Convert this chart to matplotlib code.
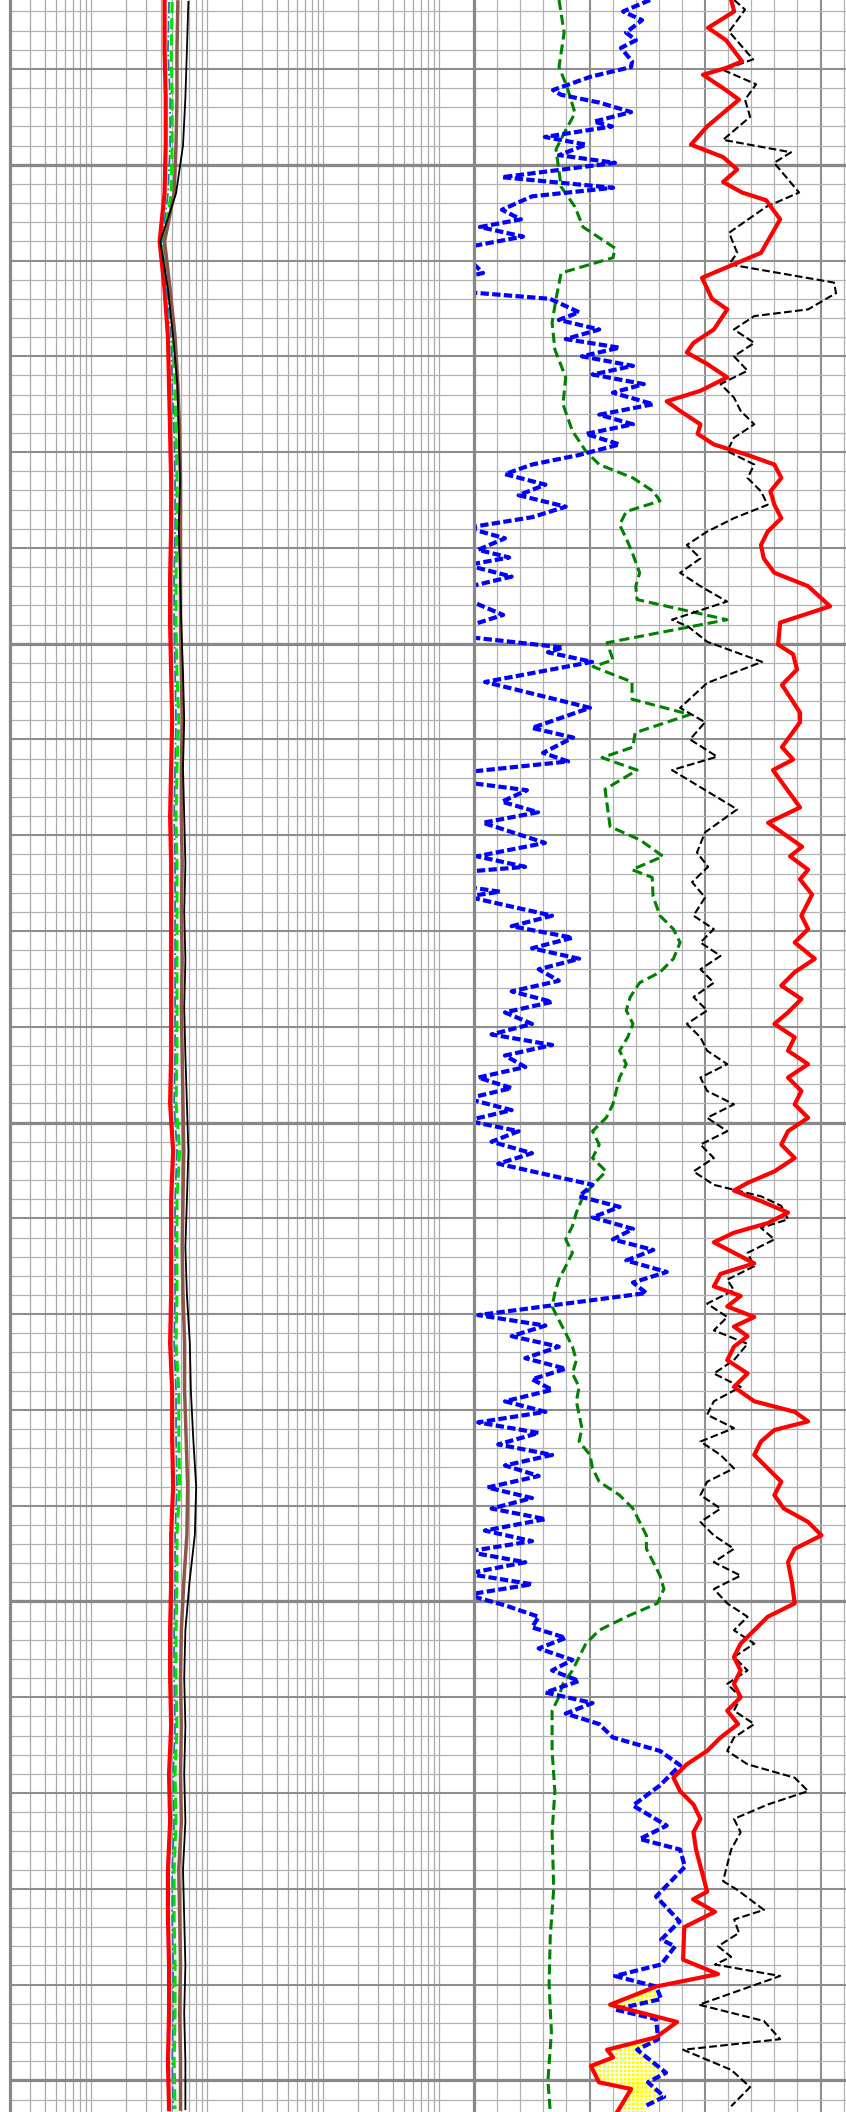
import matplotlib.pyplot as plt
import numpy as np
from matplotlib.ticker import MultipleLocator, LogLocator

# ---- resistivity track (log scale, ohm.m) ----
res_depth = [1083, 1088, 1093, 1098, 1103, 1108, 1113, 1118, 1123, 1128, 1133, 1138, 1143, 1148, 1153,
             1158, 1163, 1168, 1173, 1178, 1183, 1188, 1193, 1198, 1203, 1208, 1213, 1218, 1223, 1228,
             1233, 1238, 1243, 1248, 1253, 1258, 1263, 1268, 1273, 1278, 1283, 1288, 1293, 1298, 1303]
res_red = [4.3, 4.3, 4.4, 4.4, 4.3, 3.9, 4.3, 4.6, 4.7, 4.8, 4.9, 4.9, 4.8, 4.8, 4.9, 5.0, 4.9, 4.8, 4.9, 4.9,
           4.9, 4.9, 4.9, 4.8, 5.1, 4.9, 4.9, 4.9, 4.8, 5.0, 5.0, 5.1, 4.9, 4.9, 4.8, 4.8, 4.9, 4.7, 4.8, 4.6,
           4.6, 4.7, 4.7, 4.6, 4.7]
res_blue = [4.7, 4.6, 4.8, 4.8, 4.6, 4.1, 4.5, 4.9, 5.0, 5.2, 5.3, 5.3, 5.2, 5.2, 5.3, 5.4, 5.3, 5.2, 5.3, 5.3,
            5.3, 5.3, 5.3, 5.2, 5.5, 5.3, 5.3, 5.3, 5.2, 5.4, 5.4, 5.5, 5.3, 5.3, 5.2, 5.2, 5.3, 5.1, 5.2, 5.0,
            5.0, 5.1, 5.1, 5.0, 5.1]
res_green = [5.0, 4.9, 5.0, 5.0, 4.9, 4.2, 4.7, 5.1, 5.3, 5.4, 5.5, 5.5, 5.4, 5.4, 5.5, 5.7, 5.5, 5.4, 5.5, 5.5,
             5.5, 5.5, 5.5, 5.4, 5.8, 5.5, 5.5, 5.5, 5.4, 5.7, 5.7, 5.8, 5.5, 5.5, 5.4, 5.4, 5.5, 5.3, 5.4, 5.2,
             5.2, 5.3, 5.3, 5.2, 5.3]
res_brown = [5.6, 5.5, 5.5, 5.4, 5.2, 4.3, 4.8, 5.3, 5.6, 5.8, 5.9, 5.9, 5.9, 5.9, 6.0, 6.1, 6.0, 6.0, 6.1, 6.0,
             6.1, 6.0, 6.1, 6.2, 6.3, 6.2, 6.1, 6.2, 6.4, 6.4, 6.6, 6.8, 6.7, 6.3, 6.0, 5.9, 6.0, 5.9, 6.0, 5.7,
             5.8, 5.9, 5.8, 5.9, 5.9]
res_black = [6.9, 6.7, 6.5, 6.2, 5.4, 3.95, 4.6, 5.1, 5.55, 5.7, 5.85, 5.7, 5.85, 6.0, 6.2, 6.35, 6.2, 6.35,
             6.5, 6.35, 6.5, 6.35, 6.5, 6.7, 6.9, 6.7, 6.5, 6.7, 7.1, 7.25, 7.6, 8.05, 7.85, 7.05, 6.5, 6.35,
             6.5, 6.35, 6.5, 6.2, 6.35, 6.5, 6.35, 6.5, 6.5]

# ---- linear track ----
blue_depth = [1082.8, 1084.0, 1084.9, 1086.2, 1087.0, 1087.8, 1089.2, 1089.8, 1090.8, 1092.2, 1092.7, 1093.5,
              1094.5, 1095.5, 1096.0, 1097.1, 1097.9, 1099.0, 1099.8, 1101.3, 1102.4, 1103.3, 1104.7, 1105.7,
              1106.5, 1107.5, 1108.6, 1109.7, 1111.3, 1111.7, 1113.3, 1114.0,
              1115.4, 1116.2, 1117.2, 1118.2, 1119.1, 1120.0, 1121.0, 1121.9, 1122.9, 1123.8, 1125.0, 1126.1,
              1127.1, 1128.1, 1129.2, 1130.3, 1131.3, 1132.3, 1133.4, 1134.5, 1135.7, 1136.8, 1137.9, 1139.0,
              1140.2, 1141.0, 1141.8, 1143.0, 1144.1,
              1145.4, 1147.0, 1148.2, 1149.3, 1150.4, 1150.9, 1151.9, 1154.0, 1156.7, 1158.8, 1159.8, 1161.4,
              1162.3, 1163.4, 1164.5, 1165.3, 1166.5, 1167.6, 1168.7, 1170.8, 1172.2, 1173.3, 1173.8, 1175.4,
              1175.9, 1176.4,
              1177.3, 1178.4, 1179.5, 1180.7, 1181.8, 1182.9, 1184.0, 1185.2, 1186.3, 1187.4, 1188.5, 1189.7,
              1190.8, 1191.9, 1193.0, 1194.2, 1195.3, 1196.4, 1197.5, 1198.7, 1199.8, 1200.9, 1202.0, 1203.2,
              1204.3, 1205.4, 1206.5, 1207.7, 1208.8, 1209.9, 1211.1, 1212.2, 1213.3, 1214.4, 1215.6, 1216.7,
              1217.8, 1218.9, 1220.1, 1221.2, 1222.3, 1223.4, 1224.6, 1225.7, 1226.8, 1227.9, 1229.1, 1230.2,
              1231.3, 1232.4, 1233.6, 1234.7, 1235.8, 1236.9, 1238.1, 1239.2, 1240.3, 1241.4, 1242.6, 1243.7,
              1244.8, 1245.9, 1247.1, 1248.2, 1249.3, 1250.4, 1251.6, 1252.7, 1253.8, 1254.9, 1256.1, 1257.2,
              1258.3, 1259.5, 1260.6, 1261.7, 1262.8, 1264.2, 1265.6, 1267.1, 1269.2, 1271.3, 1273.4, 1274.8,
              1275.9, 1277.7, 1280.8, 1283.4, 1285.3, 1286.0, 1287.9, 1289.1, 1290.2, 1291.5, 1292.6, 1293.6,
              1295.7, 1296.8, 1299.2, 1300.2, 1301.7, 1302.7]
blue_val = [76.2, 64.5, 72.7, 65.8, 70.1, 63.6, 68.4, 68.0, 50.6, 34.2, 37.7, 54.1,
            68.0, 51.9, 59.7, 30.7, 48.5, 36.8, 61.0, 12.1, 60.2, 25.1, 12.1, 20.3,
            2.6, 21.2, -3, -3, 3.9, -3, -3, 32.9,
            45.5, 36.7, 54.2, 39.7, 63.0, 46.7, 68.8, 51.3, 73.5, 60.1, 77.6, 54.2,
            68.8, 48.4, 63.0, 45.5, 25.1, 13.4, 30.9, 19.3, 39.7, 25.1, -3, 13.4,
            1.8, 15.2, -3, 16.3, -3,
            -3, 12.6, -3, -3, 38.5, 32.0, 51.1, 4.8, 50.2, 25.1, 42.9, 29.9,
            40.7, -3, -3, 22.9, 12.1, 27.7, 3.9, 30.7, 1.3, 22.1, -3, -3,
            11.3, -3,
            13.4, 33.8, 16.3, 42.6, 25.1, 45.5, 28.0, 36.7, 16.3, 33.8, 13.4, 25.1,
            7.6, 33.8, 13.4, 22.2, 1.8, 16.3, -3, 16.3, -3, 19.3, 7.6, 25.1,
            10.5, 30.9, 51.3, 45.5, 63.0, 51.3, 68.8, 60.1, 77.6, 65.9, 83.4, 68.8,
            74.6, 39.7, 1.8, 30.9, 16.3, 36.7, 22.2, 39.7, 25.1, 33.8, 13.4, 30.9,
            1.8, 28.0, 10.5, 33.8, 13.4, 28.0, 5.8, 25.1, 7.6, 30.9, 4.7, 25.1,
            -3, 22.2, -3, 25.1, -3, 13.4, 28.0, 25.1, 39.7, 28.0, 42.6, 33.8,
            45.5, 30.9, 51.3, 39.7, 54.2, 60.1, 80.5, 89.2, 80.5, 68.8, 83.4, 71.7,
            89.2, 91.3, 78.8, 89.0, 81.0, 87.0, 81.0, 61.0, 78.8, 81.0, 61.0, 78.8,
            79.7, 70.6, 83.1, 75.3, 82.3, 74.0]

red_depth = [1082.8, 1084.0, 1085.7, 1087.0, 1089.2, 1089.9, 1090.6, 1092.0, 1093.2, 1096.0, 1097.9,
             1099.2, 1100.5, 1101.8, 1102.9, 1103.7, 1105.7, 1109.2, 1111.8, 1114.0,
             1115.1, 1117.2, 1118.6, 1119.6, 1120.8, 1122.2, 1123.6, 1124.7, 1125.7, 1127.1, 1128.1, 1129.2,
             1130.3, 1131.3, 1132.7, 1134.1, 1135.5, 1136.9, 1138.3, 1139.7, 1141.1, 1142.6, 1144.0,
             1146.1, 1147.8, 1150.1, 1151.1, 1152.7, 1154.3, 1157.2, 1158.2, 1160.8, 1162.1, 1163.2, 1167.1,
             1168.7, 1171.2, 1172.2, 1173.6, 1174.6, 1176.2,
             1178.4, 1179.8, 1181.2, 1182.9, 1184.3, 1185.7, 1187.1, 1188.5, 1189.7, 1191.1, 1192.5, 1193.9,
             1195.3, 1196.7, 1198.1, 1199.5, 1200.9, 1202.3, 1203.7, 1205.1, 1206.3, 1207.1, 1208.2, 1209.4,
             1210.5, 1211.5, 1212.5, 1213.6, 1214.7, 1215.8, 1217.1, 1218.1, 1219.2, 1220.3, 1221.3, 1222.3,
             1223.4, 1224.8, 1226.2, 1227.6, 1229.1, 1230.2, 1231.2, 1232.1, 1233.3, 1234.7, 1236.1, 1237.5,
             1238.9, 1240.3, 1241.7, 1243.1, 1244.5, 1245.9, 1248.0, 1250.2, 1251.6, 1253.0, 1254.4, 1255.8,
             1257.2, 1258.6, 1260.0, 1261.4, 1262.8, 1264.2, 1265.6, 1267.0, 1268.4, 1269.8, 1271.2, 1272.7,
             1274.1,
             1275.9, 1280.3, 1281.1, 1282.4, 1284.0, 1287.4, 1288.9, 1290.2, 1292.1, 1293.9, 1295.5, 1296.8,
             1297.6, 1298.5, 1300.2, 1300.9, 1302.3, 1303.3]
red_val = [111.3, 112.6, 101.3, 109.1, 116.0, 109.1, 99.1, 107.8, 114.7, 100.9, 93.9,
           107.8, 113.9, 107.8, 116.0, 126.4, 132.5, 124.2, 98.7, 103.0,
           109.6, 103.8, 95.0, 92.1, 100.9, 109.6, 98.0, 83.4, 89.2, 98.0, 96.8, 103.8,
           118.4, 130.0, 133.0, 128.3, 130.0, 133.0, 127.1, 124.2, 125.4, 130.0, 144.6,
           154.1, 132.5, 131.6, 138.1, 139.8, 133.3, 141.1, 141.1, 133.3, 138.1, 129.4, 141.1,
           127.3, 142.0, 136.8, 144.6, 141.1, 146.3,
           141.7, 144.6, 138.8, 147.5, 138.8, 133.0, 141.7, 135.9, 130.0, 138.8, 135.9, 144.6,
           135.9, 141.7, 138.8, 144.6, 135.9, 133.0, 138.8, 130.0, 118.4, 112.5, 124.2, 135.9,
           127.1, 112.5, 103.8, 112.5, 121.3, 106.7, 103.8, 115.4, 109.6, 121.3, 112.5, 118.4,
           112.5, 109.6, 118.4, 112.5, 121.3, 138.8, 144.6, 130.0, 124.2, 121.3, 127.1, 133.0,
           130.0, 134.1, 144.6, 150.4, 138.8, 135.9, 137.6, 138.8, 127.1, 121.3, 115.4, 112.5,
           115.4, 112.5, 115.4, 109.6, 114.3, 106.7, 100.9, 92.1, 86.3, 89.2, 95.0, 98.0,
           95.0,
           96.1, 100.9, 94.8, 104.3, 91.0, 90.5, 105.6, 78.8, 58.9, 87.9, 78.8, 57.6,
           60.2, 50.6, 54.1, 68.0, 64.5, 62.0]

black_depth = [1082.8, 1083.8, 1086.1, 1089.0, 1090.1, 1091.6, 1093.2, 1095.0, 1097.4, 1098.7, 1099.8,
               1102.9, 1104.4, 1107.1, 1109.2, 1110.4, 1112.3, 1113.4,
               1115.1, 1115.8, 1117.2, 1118.6, 1120.0, 1121.5, 1122.9, 1124.3, 1125.7, 1127.1, 1128.5, 1129.9,
               1131.3, 1132.7, 1134.1, 1135.5, 1136.9, 1138.3, 1139.7, 1141.1, 1142.6, 1144.0,
               1145.6, 1147.5, 1148.2, 1149.8, 1151.9, 1154.1, 1156.7, 1158.2, 1160.0, 1161.8, 1163.2, 1167.3,
               1169.7, 1171.8, 1173.3, 1174.9, 1176.5,
               1178.4, 1179.8, 1181.2, 1182.6, 1184.0, 1185.4, 1186.9, 1188.3, 1189.7, 1191.1, 1192.5, 1193.9,
               1195.3, 1196.7, 1198.1, 1199.5, 1200.9, 1202.3, 1203.7, 1205.1, 1206.5, 1207.7, 1208.7, 1210.1,
               1211.0, 1212.2, 1213.6, 1215.0, 1216.4, 1217.5, 1218.9, 1220.3, 1221.7, 1223.1, 1224.8, 1226.2,
               1227.6, 1229.1, 1230.5, 1231.9, 1233.3, 1234.7, 1236.1, 1237.5, 1238.9, 1240.3, 1241.7, 1243.1,
               1244.5, 1245.9, 1247.3, 1248.7, 1250.2, 1251.6, 1253.0, 1254.4, 1255.8, 1257.2, 1258.6, 1260.0,
               1261.4, 1262.8, 1264.2, 1265.6, 1267.0, 1268.4, 1269.8, 1271.2, 1272.7, 1274.1,
               1275.9, 1279.2, 1280.1, 1282.2, 1283.2, 1284.6, 1286.0, 1287.1, 1287.9, 1289.1, 1292.1, 1293.8,
               1295.7, 1296.8, 1298.9, 1300.7, 1302.7]
black_val = [112.6, 117.3, 110.4, 120.8, 107.8, 122.1, 117.3, 119.5, 107.8, 137.2, 129.9,
             140.7, 126.4, 110.4, 113.9, 110.4, 155.8, 156.7,
             144.6, 121.3, 112.5, 121.3, 112.5, 118.4, 106.7, 112.5, 115.4, 121.3, 112.5, 109.6,
             121.3, 118.4, 124.2, 127.1, 112.5, 100.9, 92.1, 98.0, 89.2, 98.0,
             109.5, 85.7, 92.6, 100.9, 124.7, 100.9, 89.2, 100.0, 93.5, 105.2, 85.7, 113.9,
             100.0, 96.5, 101.3, 94.4, 100.0,
             95.0, 103.8, 98.0, 106.7, 98.0, 103.8, 95.0, 100.9, 92.1, 98.0, 100.9, 109.6,
             98.0, 100.9, 112.5, 100.9, 109.6, 98.0, 103.8, 95.0, 103.8, 124.2, 133.0, 135.9,
             124.2, 130.0, 118.4, 121.3, 109.6, 112.5, 100.9, 109.6, 103.8, 118.4, 112.5, 103.8,
             115.4, 103.8, 100.9, 112.5, 98.0, 106.7, 112.5, 100.9, 98.0, 106.7, 98.0, 103.8,
             112.5, 103.8, 115.4, 103.8, 109.6, 118.4, 112.5, 121.3, 112.5, 118.4, 109.6, 115.4,
             112.5, 121.3, 112.5, 109.6, 118.4, 138.8, 144.6, 127.1, 112.5, 115.4,
             111.3, 107.8, 113.9, 125.5, 112.6, 114.7, 105.6, 111.3, 104.3, 132.5, 97.4, 125.5,
             132.5, 90.5, 111.3, 119.5, 111.3]

green_depth = [1082.8, 1086.2, 1089.8, 1091.9, 1094.6, 1096.7, 1098.4, 1102.3, 1104.4, 1106.5, 1108.7,
               1109.7, 1111.3, 1114.0,
               1116.5, 1119.3, 1122.2, 1125.0, 1127.8, 1129.9, 1131.3, 1132.7, 1134.1, 1135.1, 1136.2, 1137.6,
               1139.0, 1140.7, 1142.6, 1144.0,
               1145.4, 1147.5, 1149.9, 1151.7, 1152.4, 1154.0, 1155.8, 1157.4, 1159.3, 1160.8, 1161.9, 1163.2,
               1165.2, 1169.1, 1170.5, 1172.2, 1173.6, 1174.4, 1176.4,
               1178.4, 1179.8, 1181.2, 1182.9, 1184.3, 1185.4, 1186.9, 1188.3, 1189.7, 1191.1, 1192.5, 1193.9,
               1195.3, 1198.1, 1199.5, 1200.9, 1202.3, 1203.7, 1205.1, 1206.5, 1208.0, 1209.4, 1210.8, 1212.2,
               1213.6, 1215.0, 1216.4, 1217.8, 1219.2, 1220.6, 1222.0, 1223.4, 1224.8, 1226.2, 1227.6, 1229.1,
               1230.5, 1231.9, 1233.3, 1234.7, 1236.1, 1237.5, 1238.9, 1240.3, 1241.7, 1243.1, 1244.5, 1245.9,
               1247.3, 1248.7, 1250.2, 1251.6, 1253.0, 1254.4, 1255.8, 1257.2, 1258.6, 1260.0, 1261.4, 1265.6,
               1269.8, 1274.1, 1280.0, 1285.0, 1290.0, 1295.0, 1300.0, 1303.3]
green_val = [36.8, 39.0, 36.8, 40.3, 43.7, 39.0, 35.5, 37.7, 43.7, 47.2, 61.0,
             60.2, 37.7, 35.5,
             33.8, 35.0, 39.7, 38.5, 42.6, 48.4, 54.2, 68.8, 77.6, 80.5, 65.9, 63.0,
             65.9, 68.8, 71.7, 70.0,
             70.6, 109.5, 57.6, 60.2, 51.5, 68.4, 68.4, 93.5, 69.7, 68.8, 55.4, 70.6,
             56.7, 58.9, 71.9, 81.8, 68.4, 77.1, 77.5,
             80.5, 86.3, 89.2, 86.3, 80.5, 71.7, 67.6, 65.9, 68.8, 66.5, 63.0, 65.9,
             63.0, 60.1, 57.2, 51.3, 54.2, 51.3, 57.2, 51.3, 46.7, 44.3, 42.6, 39.7,
             42.6, 39.7, 36.7, 35.0, 33.8, 36.7, 39.7, 42.6, 44.3, 42.6, 45.5, 44.3,
             45.5, 46.7, 45.5, 50.2, 51.3, 54.2, 63.0, 68.8, 71.7, 74.6, 74.6, 77.6,
             80.5, 82.2, 79.3, 65.9, 54.2, 48.4, 45.5, 42.6, 38.5, 36.7, 33.8, 33.8,
             35.0, 33.8, 34.5, 33.0, 32.5, 33.5, 32.0, 33.0]

top, bottom = 1082.8, 1303.3

fig = plt.figure(figsize=(8.46, 21.12), dpi=100)
ax1 = fig.add_axes([10 / 846, 0, 464 / 846, 1])
ax2 = fig.add_axes([474 / 846, 0, 372 / 846, 1])


def style_depth_grid(ax):
    ax.set_ylim(bottom, top)
    ax.yaxis.set_major_locator(MultipleLocator(10))
    ax.yaxis.set_minor_locator(MultipleLocator(2))
    ax.grid(which='major', axis='y', color='#8e8e8e', lw=1.5)
    ax.grid(which='minor', axis='y', color='#b2b2b2', lw=0.9)
    for d in np.arange(1100, 1301, 50):
        ax.axhline(d, color='#888888', lw=2.3, zorder=0.6)
    ax.set_axisbelow(True)
    ax.tick_params(which='both', length=0, labelleft=False, labelbottom=False)
    for s in ['top', 'bottom', 'right']:
        ax.spines[s].set_visible(False)
    ax.spines['left'].set_color('#888888')
    ax.spines['left'].set_linewidth(2.3)


# left track
ax1.set_xscale('log')
ax1.set_xlim(0.2, 2000)
ax1.xaxis.set_major_locator(LogLocator(base=10))
ax1.xaxis.set_minor_locator(LogLocator(base=10, subs=np.arange(2, 10)))
ax1.grid(which='both', axis='x', color='#a8a8a8', lw=0.9)
style_depth_grid(ax1)

kw = dict(solid_joinstyle='round', dash_joinstyle='round')
ax1.plot(res_red, res_depth, color='red', lw=3, **kw)
ax1.plot(res_blue, res_depth, color='#1f77b4', lw=1.3, ls='-.', **kw)
ax1.plot(res_green, res_depth, color='#00e000', lw=2.2, ls='--', **kw)
ax1.plot(res_brown, res_depth, color='#8c564b', lw=2.5, **kw)
ax1.plot(res_black, res_depth, color='black', lw=1.3, **kw)

# right track
ax2.set_xlim(0, 161)
ax2.xaxis.set_major_locator(MultipleLocator(50))
ax2.xaxis.set_minor_locator(MultipleLocator(10))
ax2.grid(which='major', axis='x', color='#8e8e8e', lw=1.5)
ax2.grid(which='minor', axis='x', color='#b2b2b2', lw=0.9)
style_depth_grid(ax2)

# sand fill where red crosses left of blue
grid_d = np.linspace(top, bottom, 4000)
r_i = np.interp(grid_d, red_depth, red_val)
b_i = np.interp(grid_d, blue_depth, blue_val)
ax2.fill_betweenx(grid_d, r_i, b_i, where=r_i < b_i, facecolor='yellow',
                  edgecolor='#fffff0', hatch='++++', lw=0, zorder=1.5)

ax2.plot(green_val, green_depth, color='green', lw=2.2, ls=(0, (3.3, 1.6)), **kw)
ax2.plot(blue_val, blue_depth, color='blue', lw=3, ls=(0, (2, 0.8)), **kw)
ax2.plot(black_val, black_depth, color='black', lw=1.5, ls='--', **kw)
ax2.plot(red_val, red_depth, color='red', lw=3, **kw)

fig.savefig('out.png', dpi=100)
